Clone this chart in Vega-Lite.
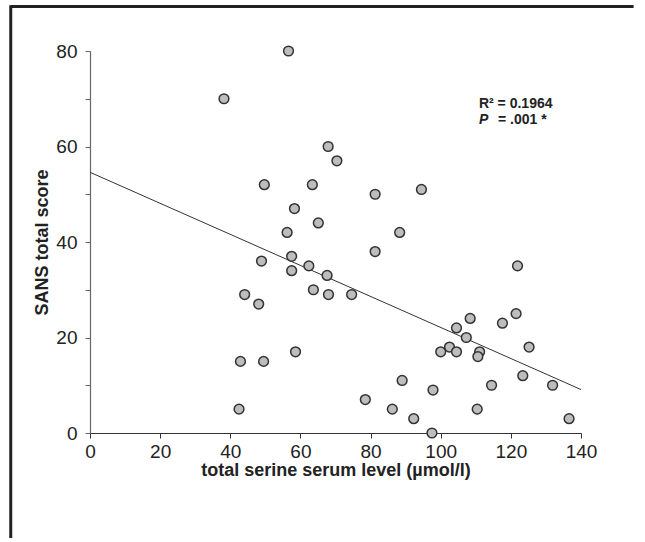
{
  "$schema": "https://vega.github.io/schema/vega-lite/v6.json",
  "width": 491,
  "height": 382,
  "autosize": {"type": "none"},
  "padding": {"left": 90, "top": 51, "right": 64, "bottom": 109},
  "background": "white",
  "config": {
    "view": {"stroke": null},
    "font": "Liberation Sans"
  },
  "datasets": {
    "points": [
      {"serine": 56.6, "sans": 80}, {"serine": 38.2, "sans": 70}, {"serine": 67.9, "sans": 60},
      {"serine": 70.4, "sans": 57}, {"serine": 49.7, "sans": 52}, {"serine": 63.4, "sans": 52},
      {"serine": 58.3, "sans": 47}, {"serine": 65.1, "sans": 44}, {"serine": 56.2, "sans": 42},
      {"serine": 57.5, "sans": 37}, {"serine": 48.9, "sans": 36}, {"serine": 62.4, "sans": 35},
      {"serine": 57.5, "sans": 34}, {"serine": 67.6, "sans": 33}, {"serine": 44.1, "sans": 29},
      {"serine": 63.7, "sans": 30}, {"serine": 68.0, "sans": 29}, {"serine": 74.6, "sans": 29},
      {"serine": 48.1, "sans": 27}, {"serine": 58.6, "sans": 17}, {"serine": 42.9, "sans": 15},
      {"serine": 49.5, "sans": 15}, {"serine": 42.5, "sans": 5}, {"serine": 81.3, "sans": 50},
      {"serine": 94.5, "sans": 51}, {"serine": 88.3, "sans": 42}, {"serine": 81.3, "sans": 38},
      {"serine": 121.9, "sans": 35}, {"serine": 108.4, "sans": 24}, {"serine": 121.5, "sans": 25},
      {"serine": 117.6, "sans": 23}, {"serine": 104.5, "sans": 22}, {"serine": 107.3, "sans": 20},
      {"serine": 102.5, "sans": 18}, {"serine": 100.0, "sans": 17}, {"serine": 104.5, "sans": 17},
      {"serine": 111.1, "sans": 17}, {"serine": 110.6, "sans": 16}, {"serine": 125.2, "sans": 18},
      {"serine": 89.0, "sans": 11}, {"serine": 97.8, "sans": 9}, {"serine": 114.5, "sans": 10},
      {"serine": 123.4, "sans": 12}, {"serine": 131.9, "sans": 10}, {"serine": 78.5, "sans": 7},
      {"serine": 86.2, "sans": 5}, {"serine": 92.3, "sans": 3}, {"serine": 97.5, "sans": 0},
      {"serine": 110.4, "sans": 5}, {"serine": 136.6, "sans": 3}
    ],
    "fit": [
      {"serine": 0, "sans": 54.6},
      {"serine": 140, "sans": 9.1}
    ],
    "one": [{}]
  },
  "layer": [
    {
      "data": {"name": "fit"},
      "mark": {"type": "line", "color": "#333333", "strokeWidth": 1},
      "encoding": {
        "x": {
          "field": "serine", "type": "quantitative",
          "scale": {"domain": [0, 140], "nice": false, "zero": false},
          "axis": {
            "values": [0, 10, 20, 30, 40, 50, 60, 70, 80, 90, 100, 110, 120, 130, 140],
            "labelExpr": "datum.value % 20 == 0 ? datum.label : ''",
            "title": "total serine serum level (µmol/l)",
            "grid": false,
            "domainColor": "#333333",
            "domainWidth": 1.2,
            "tickColor": "#333333",
            "tickSize": 5,
            "tickWidth": 1,
            "labelFontSize": 19,
            "labelColor": "#222222",
            "labelPadding": 4,
            "labelFlush": false,
            "labelFont": "Liberation Sans",
            "titleFont": "Liberation Sans",
            "titleFontSize": 18,
            "titleFontWeight": "bold",
            "titleColor": "#222222",
            "titlePadding": 0
          }
        },
        "y": {
          "field": "sans", "type": "quantitative",
          "scale": {"domain": [0, 80], "nice": false, "zero": false},
          "axis": {
            "values": [0, 10, 20, 30, 40, 50, 60, 70, 80],
            "labelExpr": "datum.value % 20 == 0 ? datum.label : ''",
            "title": "SANS total score",
            "grid": false,
            "domainColor": "#666666",
            "domainWidth": 1.2,
            "tickColor": "#666666",
            "tickSize": 5,
            "tickWidth": 1,
            "labelFontSize": 19,
            "labelColor": "#222222",
            "labelPadding": 8,
            "labelFlush": false,
            "labelFont": "Liberation Sans",
            "titleFont": "Liberation Sans",
            "titleFontSize": 18,
            "titleFontWeight": "bold",
            "titleColor": "#222222",
            "titlePadding": 4
          }
        }
      }
    },
    {
      "data": {"name": "one"},
      "mark": {"type": "rule", "color": "#222222", "strokeWidth": 3},
      "encoding": {
        "x": {"datum": -22.6, "type": "quantitative"},
        "y": {"datum": 89.3, "type": "quantitative"},
        "x2": {"datum": 155},
        "y2": {"datum": 89.3}
      }
    },
    {
      "data": {"name": "one"},
      "mark": {"type": "rule", "color": "#222222", "strokeWidth": 3},
      "encoding": {
        "x": {"datum": -22.6, "type": "quantitative"},
        "y": {"datum": 89.6, "type": "quantitative"},
        "x2": {"datum": -22.6},
        "y2": {"datum": -22}
      }
    },
    {
      "data": {"name": "points"},
      "mark": {"type": "point", "shape": "circle", "filled": true, "fill": "#bdbdbd", "stroke": "#333333", "strokeWidth": 1.5, "size": 95, "opacity": 1},
      "encoding": {
        "x": {"field": "serine", "type": "quantitative"},
        "y": {"field": "sans", "type": "quantitative"}
      }
    },
    {
      "data": {"name": "one"},
      "mark": {"type": "text", "text": "R² = 0.1964", "align": "left", "baseline": "alphabetic", "fontSize": 14, "fontWeight": "bold", "color": "#222222", "font": "Liberation Sans"},
      "encoding": {
        "x": {"datum": 110.9, "type": "quantitative"},
        "y": {"datum": 68, "type": "quantitative"}
      }
    },
    {
      "data": {"name": "one"},
      "mark": {"type": "text", "text": "P", "align": "left", "baseline": "alphabetic", "fontSize": 14, "fontWeight": "bold", "fontStyle": "italic", "color": "#222222", "font": "Liberation Sans"},
      "encoding": {
        "x": {"datum": 110.9, "type": "quantitative"},
        "y": {"datum": 64.8, "type": "quantitative"}
      }
    },
    {
      "data": {"name": "one"},
      "mark": {"type": "text", "text": "=  .001 *", "align": "left", "baseline": "alphabetic", "fontSize": 14, "fontWeight": "bold", "color": "#222222", "font": "Liberation Sans", "dx": 19},
      "encoding": {
        "x": {"datum": 110.9, "type": "quantitative"},
        "y": {"datum": 64.8, "type": "quantitative"}
      }
    }
  ]
}
